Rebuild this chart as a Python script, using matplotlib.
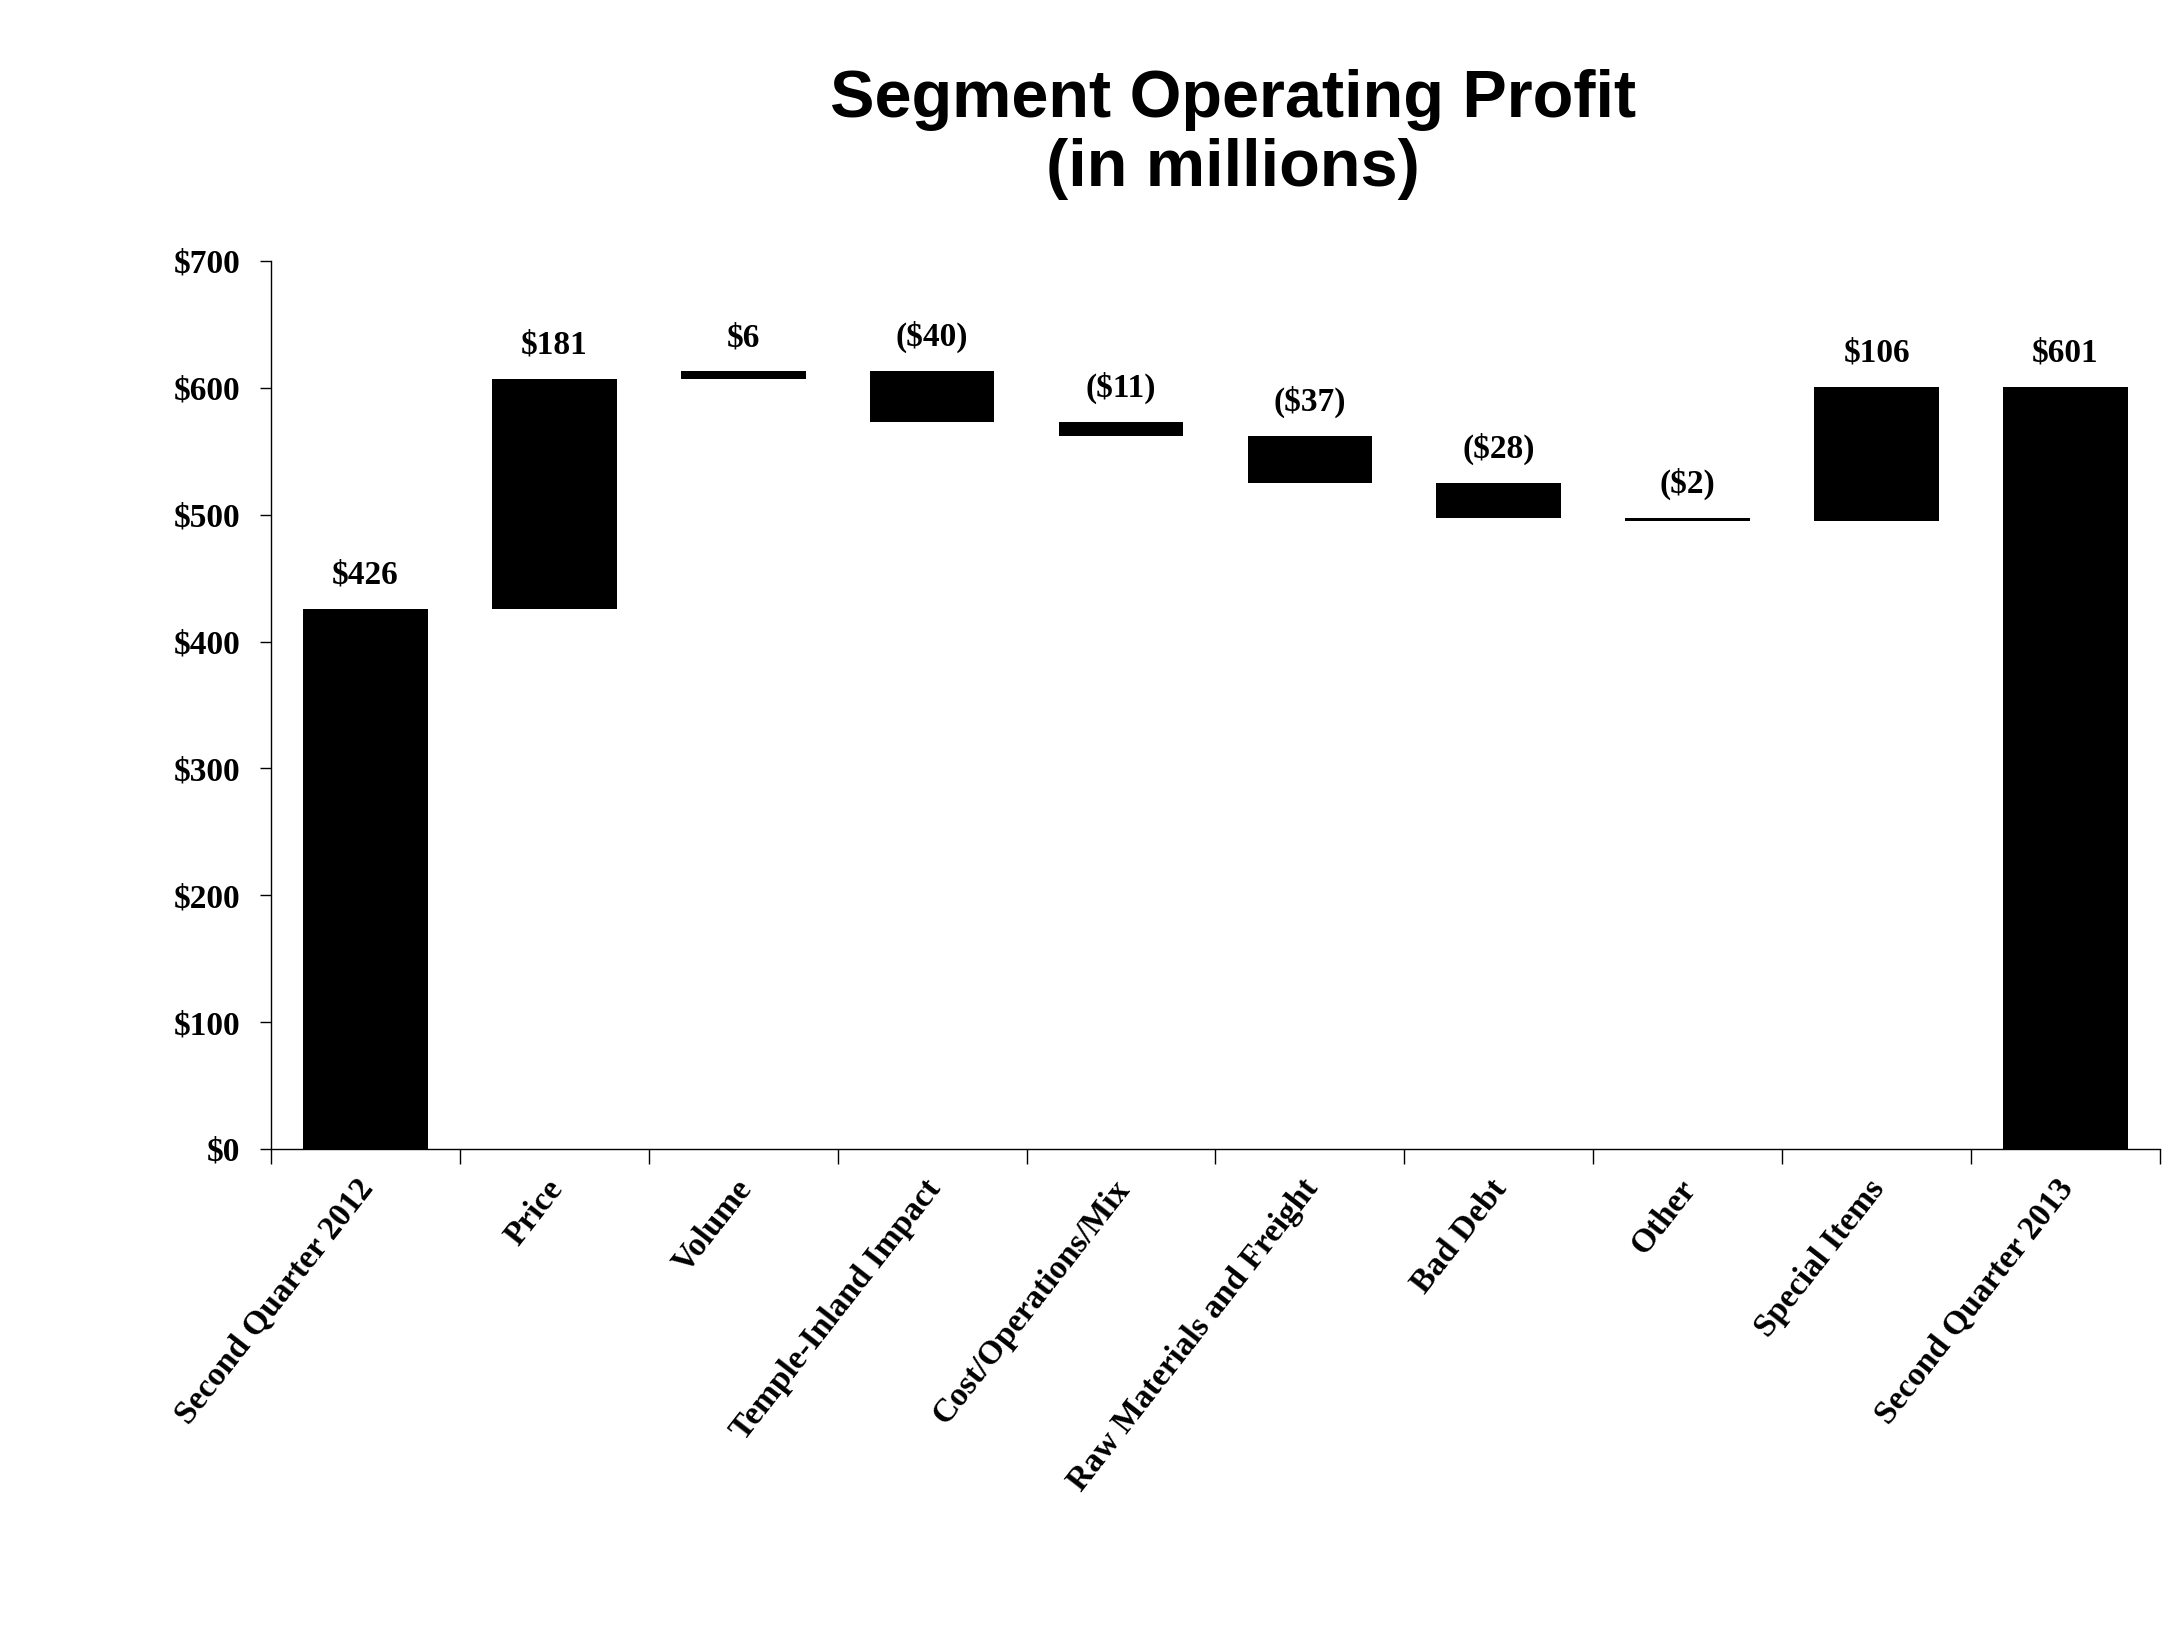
import numpy as np
import matplotlib.pyplot as plt
from matplotlib.ticker import FuncFormatter

# 데이터
categories = ['Second Quarter 2012', 'Price', 'Volume', 'Temple-Inland Impact',
              'Cost/Operations/Mix', 'Raw Materials and Freight', 'Bad Debt',
              'Other', 'Special Items', 'Second Quarter 2013']
changes = [426, 181, 6, -40, -11, -37, -28, -2, 106, 601]
is_total = [True, False, False, False, False, False, False, False, False, True]
labels = ['$426', '$181', '$6', '($40)', '($11)', '($37)', '($28)', '($2)', '$106', '$601']

# 워터폴 바닥/높이 계산
bottoms, heights, tops = [], [], []
running = 0
for c, tot in zip(changes, is_total):
    if tot:
        bottoms.append(0)
        heights.append(c)
        running = c
    else:
        new = running + c
        bottoms.append(min(running, new))
        heights.append(abs(c))
        running = new
    tops.append(bottoms[-1] + heights[-1])

serif = 'Liberation Serif'

fig = plt.figure(figsize=(21.78, 16.39), dpi=100)
ax = fig.add_axes([0.1244, 0.299, 0.9917 - 0.1244, 0.8408 - 0.299])

x = np.arange(len(categories)) + 0.5
ax.bar(x, heights, bottom=bottoms, width=0.66, color='black')

for xi, top, lab in zip(x, tops, labels):
    ax.annotate(lab, (xi, top), xytext=(0, 13), textcoords='offset points',
                ha='center', va='bottom', fontsize=24, fontweight='bold', family=serif)

ax.set_xlim(0, len(categories))
ax.set_ylim(0, 700)
ax.set_yticks(range(0, 701, 100))
ax.yaxis.set_major_formatter(FuncFormatter(lambda v, p: '${:d}'.format(int(v))))

# x축: 경계에 눈금, 가운데에 라벨
ax.set_xticks(x - 0.05)
ax.set_xticks(np.arange(len(categories) + 1), minor=True)
ax.tick_params(axis='x', which='major', length=0, pad=18)
ax.tick_params(axis='x', which='minor', length=11, width=1, direction='out')
ax.set_xticklabels(categories, rotation=52, ha='right', va='top',
                   rotation_mode='anchor', fontsize=24, fontweight='bold', family=serif)

ax.tick_params(axis='y', length=8, width=1, direction='out', pad=14)
for t in ax.get_yticklabels():
    t.set_fontsize(24)
    t.set_fontweight('bold')
    t.set_family(serif)

ax.spines['top'].set_visible(False)
ax.spines['right'].set_visible(False)
for s in ['left', 'bottom']:
    ax.spines[s].set_linewidth(1)

fig.text(0.566, 0.918, 'Segment Operating Profit\n(in millions)', ha='center', va='center',
         fontsize=48, fontweight='bold', family='Liberation Sans', linespacing=1.15)

fig.savefig('out.png', dpi=100, facecolor='white')
